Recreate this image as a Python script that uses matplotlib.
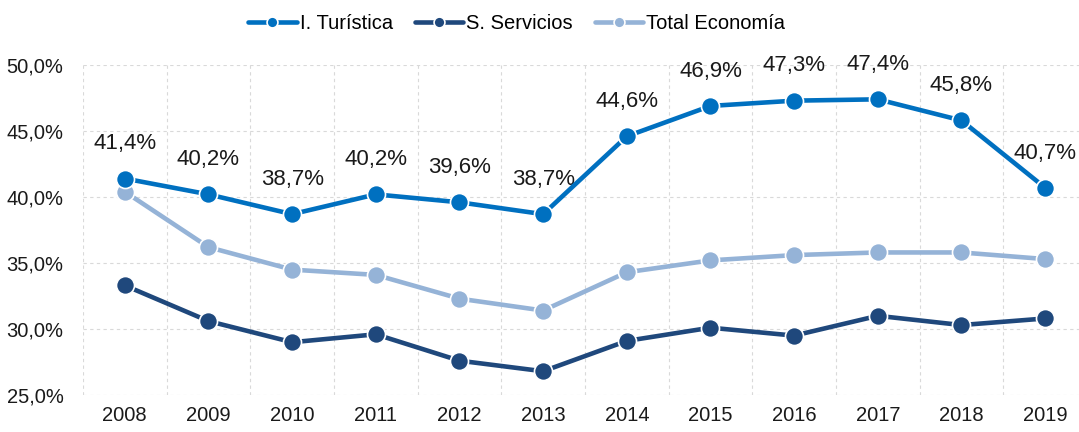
import matplotlib.pyplot as plt
from matplotlib.ticker import FuncFormatter

plt.rcParams['font.family'] = ['Liberation Sans', 'DejaVu Sans']

# Datos
anios = ['2008', '2009', '2010', '2011', '2012', '2013', '2014', '2015', '2016', '2017', '2018', '2019']
turistica = [41.4, 40.2, 38.7, 40.2, 39.6, 38.7, 44.6, 46.9, 47.3, 47.4, 45.8, 40.7]
servicios = [33.3, 30.6, 29.0, 29.6, 27.6, 26.8, 29.1, 30.1, 29.5, 31.0, 30.3, 30.8]
total_eco = [40.4, 36.2, 34.5, 34.1, 32.3, 31.4, 34.3, 35.2, 35.6, 35.8, 35.8, 35.3]

fig = plt.figure(figsize=(10.79, 4.32), dpi=100)
ax = fig.add_axes([0.0769, 0.0856, 0.9305, 0.7639])

x = range(len(anios))
estilo = dict(lw=3.3, marker='o', ms=13, mec='white', mew=1.2, solid_capstyle='round')
ax.plot(x, turistica, color='#0070C0', label='I. Turística', zorder=5, **estilo)
ax.plot(x, servicios, color='#1F487C', label='S. Servicios', zorder=4, **estilo)
ax.plot(x, total_eco, color='#95B3D7', label='Total Economía', zorder=3, **estilo)

# Etiquetas de la serie turística
for i, v in enumerate(turistica):
    ax.annotate(f'{v:.1f}%'.replace('.', ','), (i, v), xytext=(0, 25),
                textcoords='offset points', ha='center', va='center',
                fontsize=16, color='#1a1a1a')

ax.set_xlim(-0.5, len(anios) - 0.5)
ax.set_ylim(25, 50)
ax.set_yticks([25, 30, 35, 40, 45, 50])
ax.yaxis.set_major_formatter(FuncFormatter(lambda v, p: f'{v:.1f}%'.replace('.', ',')))
ax.set_xticks(list(x))
ax.set_xticklabels(anios)
ax.set_xticks([i - 0.5 for i in range(len(anios) + 1)], minor=True)

ax.grid(True, which='major', axis='y', color='#d9d9d9', ls=(0, (3, 3)), lw=0.8)
ax.grid(True, which='minor', axis='x', color='#d9d9d9', ls=(0, (3, 3)), lw=0.8)
ax.tick_params(which='both', length=0, labelsize=14.5, colors='#1a1a1a')
ax.tick_params(axis='x', pad=8)
ax.tick_params(axis='y', pad=14)
for s in ax.spines.values():
    s.set_visible(False)

fig.legend(loc='center', bbox_to_anchor=(0.479, 0.945), ncol=3, frameon=False,
           fontsize=14.5, handlelength=2.4, columnspacing=1.1, handletextpad=0.15,
           markerscale=0.6)

plt.savefig('out.png', dpi=100)
